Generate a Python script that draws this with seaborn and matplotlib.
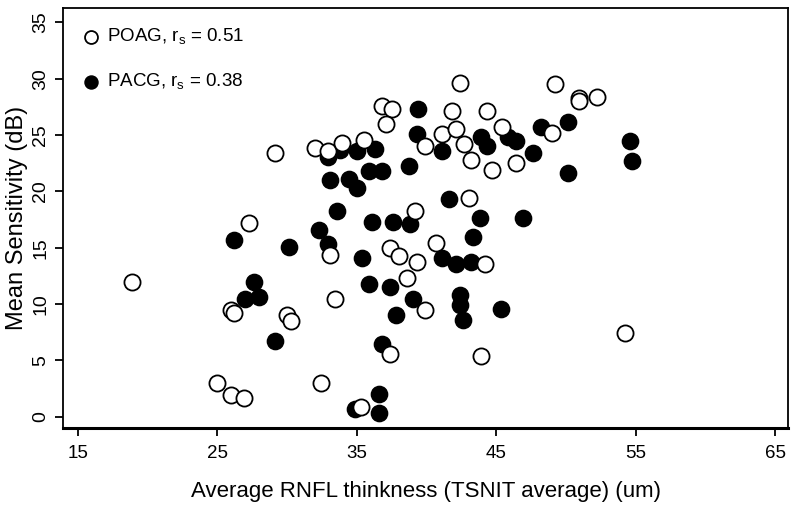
import pandas as pd
import numpy as np
import matplotlib
matplotlib.use('Agg')
import matplotlib.pyplot as plt
import seaborn as sns

# POAG points (open circles)
poag_x = [18.9, 25.0, 26.0, 26.9, 26.0, 26.2, 27.3, 29.1, 30.0, 30.3, 32.4, 32.0, 32.9, 33.9, 35.5,
          33.1, 33.4, 35.3, 36.8, 37.5, 37.1, 37.4, 38.0, 37.4, 38.6, 39.2, 39.3, 39.9, 39.9, 41.1,
          42.1, 41.8, 42.4, 42.7, 40.7, 43.0, 43.2, 44.2, 43.9, 44.3, 44.7, 45.4, 46.4, 49.0, 49.2,
          50.9, 50.9, 52.2, 54.2]
poag_y = [12.0, 3.0, 1.9, 1.7, 9.5, 9.2, 17.2, 23.4, 9.0, 8.5, 3.0, 23.9, 23.6, 24.3, 24.6,
          14.4, 10.5, 0.9, 27.6, 27.3, 26.0, 15.0, 14.3, 5.6, 12.3, 18.3, 13.7, 9.5, 24.0, 25.1,
          25.5, 27.1, 29.6, 24.2, 15.4, 19.4, 22.8, 13.6, 5.4, 27.1, 21.9, 25.7, 22.5, 25.2, 29.5,
          28.3, 28.0, 28.4, 7.4]

# PACG points (filled circles)
pacg_x = [26.2, 30.1, 32.3, 27.6, 27.0, 28.0, 29.1, 32.9, 33.8, 35.0, 36.3, 33.1, 34.4, 35.0,
          35.9, 36.8, 38.7, 39.4, 39.3, 41.1, 41.6, 33.6, 32.9, 36.1, 37.6, 38.8, 43.8, 43.3,
          46.9, 35.4, 41.1, 42.1, 43.2, 35.9, 37.4, 39.0, 42.4, 42.4, 42.6, 45.3, 37.8, 36.8,
          36.6, 36.6, 34.9, 43.9, 44.3, 45.8, 46.4, 48.2, 47.6, 50.1, 50.1, 54.6, 54.7]
pacg_y = [15.7, 15.1, 16.6, 12.0, 10.5, 10.6, 6.7, 23.1, 23.7, 23.6, 23.8, 21.0, 21.1, 20.3,
          21.8, 21.8, 22.3, 27.3, 25.1, 23.6, 19.3, 18.3, 15.3, 17.3, 17.3, 17.1, 17.6, 16.0,
          17.6, 14.1, 14.1, 13.6, 13.7, 11.8, 11.5, 10.5, 10.8, 9.9, 8.6, 9.6, 9.0, 6.5,
          2.0, 0.3, 0.7, 24.8, 24.0, 24.8, 24.5, 25.7, 23.4, 26.2, 21.6, 24.5, 22.7]

labels = [r'POAG, r$_\mathregular{s}$ = 0.51', r'PACG, r$_\mathregular{s}$ = 0.38']
x_ticks = [15, 25, 35, 45, 55, 65]
y_ticks = [0, 5, 10, 15, 20, 25, 30, 35]

df_poag = pd.DataFrame({'x': poag_x, 'y': poag_y})
df_pacg = pd.DataFrame({'x': pacg_x, 'y': pacg_y})

sns.set_theme(style='white')
plt.rcParams['font.family'] = ['Liberation Sans', 'DejaVu Sans']
plt.rcParams['mathtext.fontset'] = 'custom'
plt.rcParams['mathtext.rm'] = 'Liberation Sans'
plt.rcParams['text.color'] = 'black'
plt.rcParams['axes.labelcolor'] = 'black'

fig = plt.figure(figsize=(8, 5.18), dpi=100)
ax = fig.add_axes([0.079, 0.174, 0.906, 0.811])

# filled first, open circles drawn on top
sns.scatterplot(data=df_pacg, x='x', y='y', ax=ax, color='black', edgecolor='black',
                linewidth=1.1, s=135, label=labels[1], zorder=2)
sns.scatterplot(data=df_poag, x='x', y='y', ax=ax, color='white', edgecolor='black',
                linewidth=1.3, s=135, label=labels[0], zorder=3)

ax.set_xlim(13.95, 65.9)
ax.set_ylim(-0.98, 36.3)
ax.set_xticks(x_ticks)
ax.set_yticks(y_ticks)
ax.tick_params(axis='both', direction='out', length=6, width=1.3, colors='black',
               bottom=True, left=True)
ax.tick_params(axis='x', pad=6, labelsize=13.5)
ax.tick_params(axis='y', pad=4, labelsize=14)
for lab in ax.get_yticklabels():
    lab.set_rotation(90)
    lab.set_va('center')

for side in ['top', 'right', 'left']:
    ax.spines[side].set_linewidth(1.3)
    ax.spines[side].set_color('black')
ax.spines['bottom'].set_linewidth(2.2)
ax.spines['bottom'].set_color('black')

ax.set_xlabel('Average RNFL thinkness (TSNIT average) (um)', fontsize=16, labelpad=14)
ax.set_ylabel('Mean Sensitivity (dB)', fontsize=17, labelpad=3)

handles, labs = ax.get_legend_handles_labels()
ax.legend(handles[::-1], labs[::-1], loc='upper left', frameon=False, fontsize=13.5,
          markerscale=0.8, handletextpad=0.05, labelspacing=1.3, handlelength=1.6,
          bbox_to_anchor=(-0.005, 0.994), borderaxespad=0.5)

plt.savefig('out.png', dpi=100)
plt.close()
